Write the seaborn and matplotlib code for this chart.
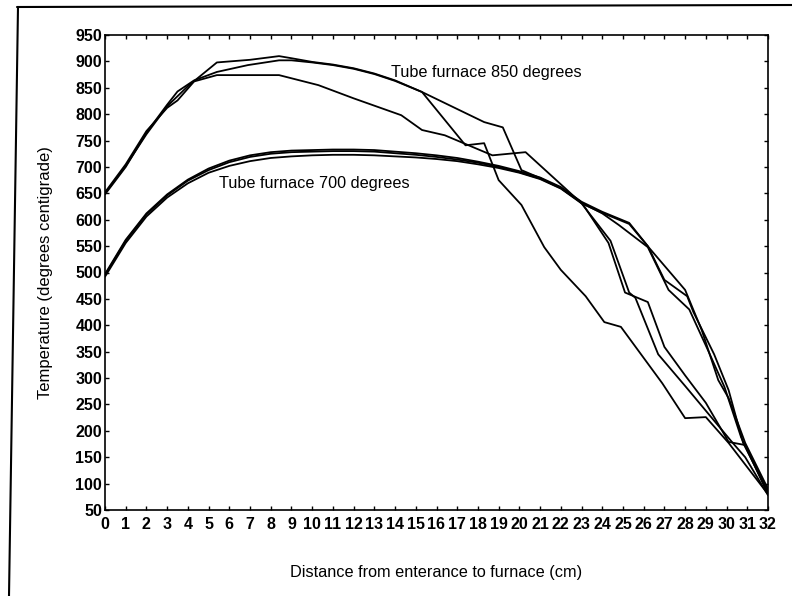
import matplotlib
matplotlib.use("Agg")
import matplotlib.pyplot as plt
from matplotlib.lines import Line2D
import pandas as pd
import seaborn as sns

# ---------------- data ----------------
# Tube furnace 850 degrees runs
x_850a = [0, 1, 2, 3, 4, 5.4, 7, 8.4, 9, 10, 11, 12, 13, 14, 15.3, 18.3, 19.2, 20.1,
          21, 22, 23, 24.3, 25.1, 26.2, 27, 28, 29, 30.1, 30.9, 32]
t_850a = [650, 702, 762, 815, 853, 898, 903, 910, 906, 899, 894, 887, 877, 864, 842, 785, 775, 694,
          679, 660, 633, 556, 462, 444, 359, 305, 253, 179, 173, 82]

x_850b = [0, 1, 2, 3, 3.5, 4.3, 5.4, 6.9, 8.4, 9, 10, 11, 12, 13, 14, 15.3, 17.4, 18.3, 19,
          20.1, 21.2, 22, 23.2, 24.1, 24.9, 26.9, 28, 29, 30.1, 32]
t_850b = [648, 700, 765, 818, 843, 864, 880, 893, 902, 902, 898, 893, 886, 876, 863, 842, 741, 745, 675,
          628, 548, 505, 455, 406, 397, 290, 224, 226, 177, 80]

x_850c = [0, 1, 2, 3, 3.5, 4.3, 5.4, 8.4, 10.3, 12, 14.3, 15.3, 16.4, 18.7, 20.3, 22.2, 23,
          24.4, 25.3, 25.6, 26.7, 28, 30.3, 30.9, 32]
t_850c = [652, 705, 768, 812, 826, 862, 874, 874, 855, 830, 798, 770, 760, 722, 728, 660, 631,
          560, 462, 452, 345, 285, 177, 150, 78]

# Tube furnace 700 degrees runs
x_700a = [0, 1, 2, 3, 4, 5, 6, 7, 8, 9, 10, 11, 12, 13, 14, 15, 16, 17, 18, 19, 20, 21, 22, 23, 24,
          25.3, 26.2, 27, 28.1, 28.4, 29.4, 30.1, 30.8, 32]
t_700a = [497, 562, 612, 648, 676, 697, 712, 722, 728, 731, 732, 733, 733, 732, 729, 726, 722, 717, 710,
          702, 692, 680, 662, 634, 615, 594, 550, 486, 455, 425, 345, 277, 177, 85]

x_700b = [0, 1, 2, 3, 4, 5, 6, 7, 8, 9, 10, 11, 12, 13, 14, 15, 16, 17, 18, 19, 20, 21, 22, 23, 24,
          24.8, 26.2, 27.2, 28.2, 29.1, 29.9, 30.7, 32]
t_700b = [495, 560, 610, 646, 674, 694, 709, 719, 725, 728, 729, 730, 730, 729, 726, 723, 719, 714, 708,
          700, 690, 678, 660, 632, 612, 590, 548, 467, 430, 353, 283, 188, 80]

x_700c = [0, 1, 2, 3, 4, 5, 6, 7, 8, 9, 10, 11, 12, 13, 14, 15, 16, 17, 18, 19, 20, 21, 22, 23, 24,
          25.3, 26.3, 28, 28.8, 29.6, 30.1, 30.9, 32]
t_700c = [492, 556, 606, 642, 669, 689, 702, 711, 717, 720, 722, 723, 723, 722, 720, 718, 715, 711, 705,
          698, 689, 677, 659, 631, 613, 592, 545, 467, 391, 296, 262, 177, 90]

run_names = ["850-1", "850-2", "850-3", "700-1", "700-2", "700-3"]
x_ticks = list(range(0, 33))
y_ticks = list(range(50, 951, 50))
x_label = "Distance from enterance to furnace (cm)"
y_label = "Temperature (degrees centigrade)"
label_850 = "Tube furnace 850 degrees"
label_700 = "Tube furnace 700 degrees"

# ---------------- build long table ----------------
all_x = [x_850a, x_850b, x_850c, x_700a, x_700b, x_700c]
all_t = [t_850a, t_850b, t_850c, t_700a, t_700b, t_700c]
frames = []
for name, xs, ts in zip(run_names, all_x, all_t):
    frames.append(pd.DataFrame({"run": name, "distance": xs, "temperature": ts}))
df = pd.concat(frames, ignore_index=True)

# ---------------- plot ----------------
sns.set_theme(style="ticks")
plt.rcParams["font.family"] = ["Liberation Sans", "DejaVu Sans"]

W, H = 792, 596
fig = plt.figure(figsize=(W / 100, H / 100), dpi=100)
fig.patch.set_facecolor("white")
left, right, top, bottom = 105, 768, 35, 510
ax = fig.add_axes([left / W, 1 - bottom / H, (right - left) / W, (bottom - top) / H])

sns.lineplot(data=df, x="distance", y="temperature", units="run", estimator=None,
             color="black", linewidth=1.3, sort=False, legend=False, ax=ax)

ax.set_xlim(0, 32)
ax.set_ylim(50, 950)
ax.set_xticks(x_ticks)
ax.set_yticks(y_ticks)
ax.set_xticklabels([str(v) for v in x_ticks], fontsize=11.5, fontweight="bold")
ax.set_yticklabels([str(v) for v in y_ticks], fontsize=11.5, fontweight="bold")
ax.tick_params(direction="in", length=3, width=1, top=True, right=True, colors="black")
ax.tick_params(axis="x", pad=5)
ax.tick_params(axis="y", pad=2)
for sp in ax.spines.values():
    sp.set_linewidth(1.2)
    sp.set_color("black")

ax.set_xlabel(x_label, fontsize=11.7, labelpad=24, color="black")
ax.set_ylabel(y_label, fontsize=12, labelpad=16, color="black")

ax.text(13.8, 879, label_850, fontsize=11.7, va="center", ha="left", color="black")
ax.text(5.5, 669, label_700, fontsize=11.7, va="center", ha="left", color="black")

# scanned page frame
fig.add_artist(Line2D([17 / W, 1.0], [1 - 7 / H, 1 - 5 / H], transform=fig.transFigure,
                      color="black", linewidth=1.5))
fig.add_artist(Line2D([18 / W, 9 / W], [1 - 7 / H, 0.0], transform=fig.transFigure,
                      color="black", linewidth=1.5))

fig.savefig("out.png", dpi=100, facecolor="white")
